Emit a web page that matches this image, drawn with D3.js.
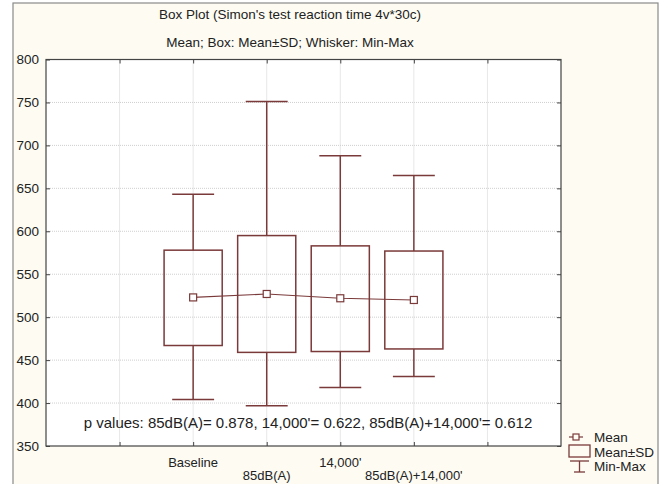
<!DOCTYPE html>
<html>
<head>
<meta charset="UTF-8">
<title>Box Plot</title>
<script src="https://d3js.org/d3.v7.min.js"></script>
<style>
  body { margin: 0; background: #fff; }
  svg text { font-family: "Liberation Sans", Arial, sans-serif; fill: #222; }
</style>
</head>
<body>
<svg width="661" height="484"></svg>
<script>
// data
const groups = ["Baseline", "85dB(A)", "14,000'", "85dB(A)+14,000'"];
const means = [523, 527, 522, 520];
const sdLow = [467, 459, 460, 463];
const sdHigh = [578, 595, 583, 577];
const minVals = [404, 397, 418, 431];
const maxVals = [643, 751, 688, 665];
const yTicks = [350, 400, 450, 500, 550, 600, 650, 700, 750, 800];

const svg = d3.select("svg");
const ink = "#7b3a3a";

// outer panel
svg.append("rect").attr("x", 13).attr("y", 3).attr("width", 645).attr("height", 490)
    .attr("fill", "#fdfbf2").attr("stroke", "#8a8a8a").attr("stroke-width", 1.2);

const pLeft = 46, pRight = 561, pTop = 59.5, pBottom = 446;

// x: 7 slots, the groups sit at 2..5
const x = d3.scaleLinear().domain([0, 7]).range([pLeft, pRight]);
const y = d3.scaleLinear().domain([350, 800]).range([pBottom, pTop]);
const pos = groups.map((g, i) => i + 2);

svg.append("rect").attr("x", pLeft).attr("y", pTop).attr("width", pRight - pLeft).attr("height", pBottom - pTop)
    .attr("fill", "#fff");

// grid
svg.append("g").selectAll("line").data(yTicks.slice(1, -1)).join("line")
    .attr("x1", pLeft).attr("x2", pRight).attr("y1", d => y(d)).attr("y2", d => y(d))
    .attr("stroke", "#cfcfcf").attr("stroke-dasharray", "1,1");
svg.append("g").selectAll("line").data(d3.range(1, 7)).join("line")
    .attr("y1", pTop).attr("y2", pBottom).attr("x1", d => x(d)).attr("x2", d => x(d))
    .attr("stroke", "#cfcfcf").attr("stroke-dasharray", "1,1");

// axes with inward ticks on all sides
const axisL = d3.axisLeft(y).tickValues(yTicks).tickSizeInner(-4).tickSizeOuter(0).tickPadding(7);
const gl = svg.append("g").attr("transform", `translate(${pLeft},0)`).call(axisL);
gl.selectAll("text").attr("font-size", 13.5).attr("fill", "#222").attr("font-family", "Liberation Sans, Arial, sans-serif");
svg.append("g").attr("transform", `translate(${pRight},0)`)
    .call(d3.axisRight(y).tickValues(yTicks).tickSizeInner(-4).tickSizeOuter(0).tickFormat(""));
svg.append("g").attr("transform", `translate(0,${pTop})`)
    .call(d3.axisTop(x).tickValues(d3.range(1, 7)).tickSizeInner(-4).tickSizeOuter(0).tickFormat(""));
svg.append("g").attr("transform", `translate(0,${pBottom})`)
    .call(d3.axisBottom(x).tickValues(d3.range(1, 7)).tickSizeInner(-4).tickSizeOuter(0).tickFormat(""));
svg.selectAll(".domain").remove();
svg.selectAll(".tick line").attr("stroke", "#444");

// frame
svg.append("rect").attr("x", pLeft).attr("y", pTop).attr("width", pRight - pLeft).attr("height", pBottom - pTop)
    .attr("fill", "none").attr("stroke", "#444").attr("stroke-width", 1.2);

// category labels, alternating rows
svg.append("g").selectAll("text").data(groups).join("text")
    .attr("x", (d, i) => x(pos[i]))
    .attr("y", (d, i) => i % 2 === 0 ? 467 : 480)
    .attr("text-anchor", "middle").attr("font-size", 13)
    .text(d => d);

// boxes
const boxW = (x(1) - x(0)) * 0.79;
const capW = (x(1) - x(0)) * 0.57;
const g = svg.append("g").attr("stroke", ink).attr("stroke-width", 1.5).attr("fill", "none");
groups.forEach((name, i) => {
  const cx = x(pos[i]);
  g.append("line").attr("x1", cx).attr("x2", cx).attr("y1", y(maxVals[i])).attr("y2", y(sdHigh[i]));
  g.append("line").attr("x1", cx).attr("x2", cx).attr("y1", y(sdLow[i])).attr("y2", y(minVals[i]));
  g.append("line").attr("x1", cx - capW / 2).attr("x2", cx + capW / 2).attr("y1", y(maxVals[i])).attr("y2", y(maxVals[i]));
  g.append("line").attr("x1", cx - capW / 2).attr("x2", cx + capW / 2).attr("y1", y(minVals[i])).attr("y2", y(minVals[i]));
  g.append("rect").attr("x", cx - boxW / 2).attr("width", boxW)
      .attr("y", y(sdHigh[i])).attr("height", y(sdLow[i]) - y(sdHigh[i]));
});

// mean line and markers
svg.append("path").datum(means)
    .attr("d", d3.line().x((d, i) => x(pos[i])).y(d => y(d)))
    .attr("fill", "none").attr("stroke", ink).attr("stroke-width", 1.2);
svg.append("g").selectAll("rect").data(means).join("rect")
    .attr("x", (d, i) => x(pos[i]) - 3.5).attr("y", d => y(d) - 3.5)
    .attr("width", 7).attr("height", 7)
    .attr("fill", "#fff").attr("stroke", ink).attr("stroke-width", 1.2);

// titles
svg.append("text").attr("x", 290).attr("y", 19).attr("text-anchor", "middle").attr("font-size", 13.5)
    .text("Box Plot (Simon's test reaction time 4v*30c)");
svg.append("text").attr("x", 290).attr("y", 47).attr("text-anchor", "middle").attr("font-size", 13.5)
    .text("Mean; Box: Mean±SD; Whisker: Min-Max");

// p values note
svg.append("text").attr("x", 308).attr("y", 428).attr("text-anchor", "middle").attr("font-size", 15)
    .text("p values: 85dB(A)= 0.878, 14,000'= 0.622, 85dB(A)+14,000'= 0.612");

// legend
const lg = svg.append("g");
const lx = 569;
lg.append("line").attr("x1", lx).attr("x2", lx + 14).attr("y1", 437).attr("y2", 437)
    .attr("stroke", ink).attr("stroke-width", 1.2);
lg.append("rect").attr("x", lx + 4).attr("y", 434).attr("width", 6).attr("height", 6)
    .attr("fill", "#fdfbf2").attr("stroke", ink).attr("stroke-width", 1.2);
lg.append("rect").attr("x", lx).attr("y", 445).attr("width", 21).attr("height", 12)
    .attr("fill", "none").attr("stroke", ink).attr("stroke-width", 1.3);
lg.append("line").attr("x1", lx + 1).attr("x2", lx + 20).attr("y1", 461).attr("y2", 461)
    .attr("stroke", ink).attr("stroke-width", 1.3);
lg.append("line").attr("x1", lx + 10.5).attr("x2", lx + 10.5).attr("y1", 461).attr("y2", 472)
    .attr("stroke", ink).attr("stroke-width", 1.3);
lg.append("line").attr("x1", lx + 5).attr("x2", lx + 16).attr("y1", 472).attr("y2", 472)
    .attr("stroke", ink).attr("stroke-width", 1.3);
lg.selectAll("text").data(["Mean", "Mean±SD", "Min-Max"]).join("text")
    .attr("x", 594).attr("y", (d, i) => 442 + i * 14.5)
    .attr("font-size", 13.5).text(d => d);
</script>
</body>
</html>
